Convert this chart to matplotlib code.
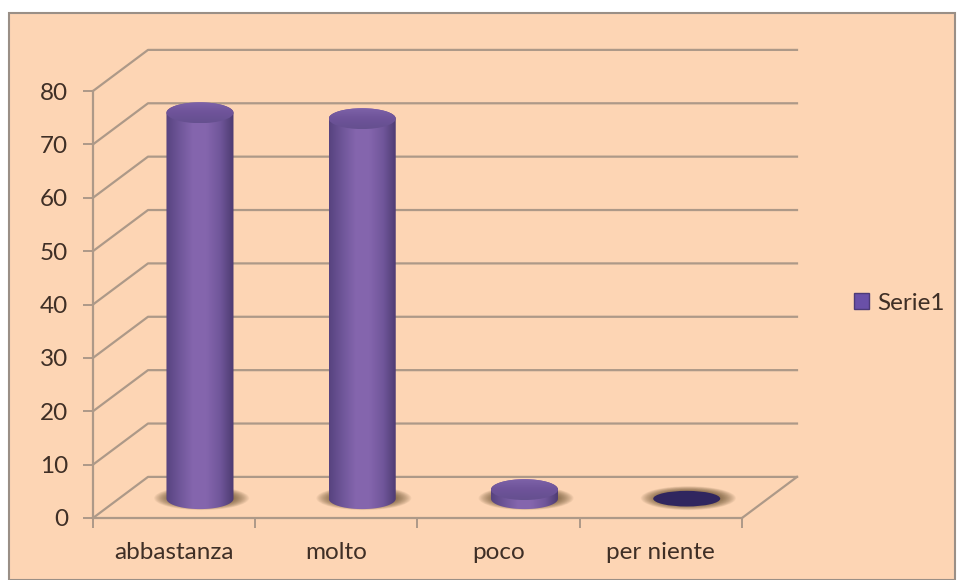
import matplotlib

matplotlib.use("Agg")
import matplotlib.pyplot as plt
import numpy as np
from matplotlib.colors import LinearSegmentedColormap
from matplotlib.patches import Ellipse, Patch, Rectangle
from matplotlib.path import Path

categories = ["abbastanza", "molto", "poco", "per niente"]
values = [72.3, 71.2, 1.7, 0]
y_ticks = [0, 10, 20, 30, 40, 50, 60, 70, 80]

W, H = 957, 580
BG = "#fdd5b4"
LINE = "#ad9988"
TEXT = "#3f2f26"

# 3d look: how far the back wall sits from the front, in data units
DEPTH_X = 0.339
DEPTH_Y = 7.7
BAR_DEPTH = 0.47
BAR_W = 0.413
TOP_H = 3.9

plt.rcParams["font.family"] = ["Lato", "DejaVu Sans"]

fig = plt.figure(figsize=(W / 100, H / 100), dpi=100, facecolor="white")
fig.add_artist(
    Rectangle(
        (9 / W, 0),
        (W - 11) / W,
        (H - 13) / H,
        transform=fig.transFigure,
        facecolor=BG,
        edgecolor="#9a8f86",
        linewidth=1.5,
        zorder=-1,
    )
)

ax = fig.add_axes([93 / W, (H - 518) / H, 649 / W, 427 / H])
ax.patch.set_alpha(0)
ax.set_xlim(0, 4)
ax.set_ylim(0, 80)

# walls and floor
for t in y_ticks:
    ax.plot(
        [0, DEPTH_X, 4 + DEPTH_X],
        [t, t + DEPTH_Y, t + DEPTH_Y],
        color=LINE,
        lw=1.6,
        clip_on=False,
        zorder=1,
    )
ax.plot([4, 4 + DEPTH_X], [0, DEPTH_Y], color=LINE, lw=1.6, clip_on=False, zorder=1)

side_cmap = LinearSegmentedColormap.from_list(
    "side", ["#57437f", "#6f5699", "#8566ae", "#8465ad", "#70569a", "#4c3a70"]
)
top_cmap = LinearSegmentedColormap.from_list("top", ["#7d62a8", "#6e5399", "#65508f"])


def ellipse_points(cx, cy, w, h, a0, a1):
    t = np.radians(np.linspace(a0, a1, 60))
    return np.column_stack([cx + w / 2 * np.cos(t), cy + h / 2 * np.sin(t)])


for i, v in enumerate(values):
    cx = i + 0.5 + BAR_DEPTH * DEPTH_X
    base = BAR_DEPTH * DEPTH_Y

    # soft shadow on the floor
    for k in range(20):
        ax.add_patch(
            Ellipse(
                (cx + 0.01, base + 0.1),
                (1.42 - k * 0.025) * BAR_W,
                (1.15 - k * 0.025) * TOP_H,
                facecolor="#5f4526",
                edgecolor="none",
                alpha=0.05,
                zorder=2,
            )
        )

    if v == 0:
        ax.add_patch(
            Ellipse(
                (cx, base),
                BAR_W,
                TOP_H * 0.75,
                facecolor="#30265f",
                edgecolor="none",
                zorder=3,
            )
        )
        continue

    top = base + v
    lower = ellipse_points(cx, base, BAR_W, TOP_H, 180, 360)
    upper = ellipse_points(cx, top, BAR_W, TOP_H, 0, 180)
    outline = np.vstack([lower, upper, lower[:1]])
    body = ax.imshow(
        np.linspace(0, 1, 256)[None, :],
        cmap=side_cmap,
        extent=(cx - BAR_W / 2, cx + BAR_W / 2, base - TOP_H, top + TOP_H),
        aspect="auto",
        zorder=3,
    )
    body.set_clip_path(Path(outline), transform=ax.transData)
    cap = ax.imshow(
        np.linspace(0, 1, 64)[:, None],
        cmap=top_cmap,
        extent=(cx - BAR_W / 2, cx + BAR_W / 2, top - TOP_H / 2, top + TOP_H / 2),
        aspect="auto",
        zorder=4,
    )
    cap_patch = Ellipse((cx, top), BAR_W, TOP_H, transform=ax.transData)
    cap.set_clip_path(cap_patch)

ax.set_xlim(0, 4)
ax.set_ylim(0, 80)

for side in ("top", "right"):
    ax.spines[side].set_visible(False)
for side in ("left", "bottom"):
    ax.spines[side].set_color(LINE)
    ax.spines[side].set_linewidth(1.6)
    ax.spines[side].set_zorder(5)

ax.set_yticks(y_ticks)
ax.set_xticks(range(5))
ax.set_xticklabels([])
ax.set_xticks(np.arange(len(categories)) + 0.5, categories, minor=True)
ax.tick_params(axis="both", which="major", length=7, width=1.4, color=LINE)
ax.tick_params(
    axis="x", which="minor", length=0, pad=17, labelsize=17.5, labelcolor=TEXT
)
ax.tick_params(axis="y", labelsize=17.5, labelcolor=TEXT, pad=11)

fig.legend(
    handles=[Patch(facecolor="#6a50a8", edgecolor="#4d3b78", label="Serie1")],
    loc="center left",
    bbox_to_anchor=(854 / W, (H - 303) / H),
    borderpad=0,
    borderaxespad=0,
    frameon=False,
    fontsize=17.5,
    labelcolor=TEXT,
    handlelength=0.62,
    handleheight=0.62,
    handletextpad=0.35,
)

fig.savefig("out.png", dpi=100, facecolor=fig.get_facecolor())
